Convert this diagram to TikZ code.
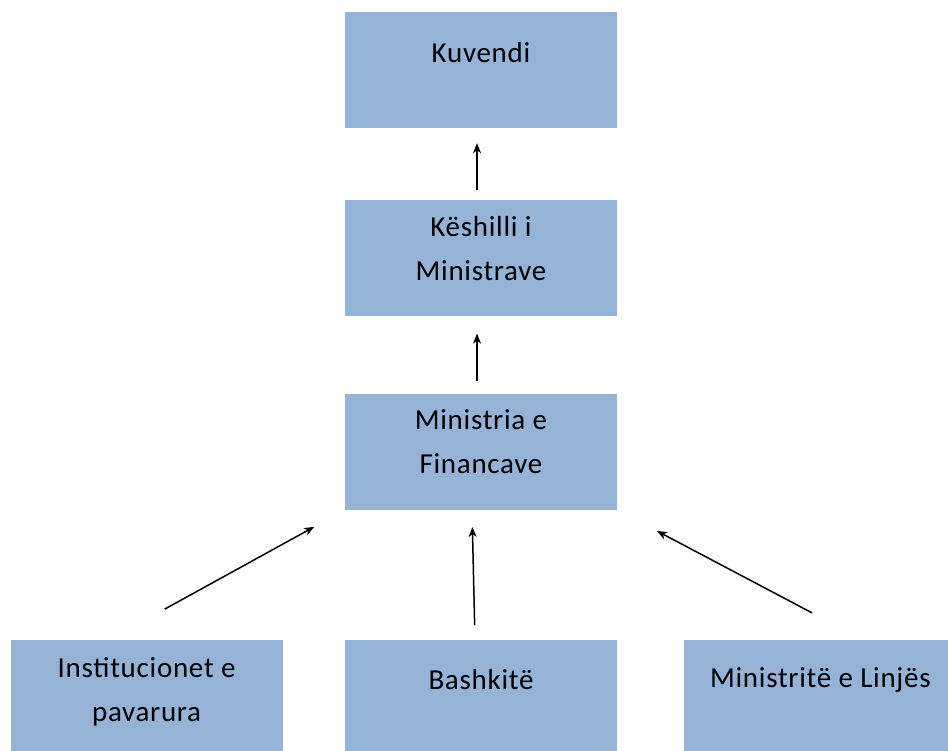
\documentclass[tikz,border=0pt]{standalone}
\usepackage{xcolor}
\usepackage{fontspec}
\setmainfont{Carlito}[LetterSpace=2.5]
\usepackage{tikz}
\usetikzlibrary{arrows.meta, positioning}

\definecolor{boxblue}{RGB}{149,179,215}
% box text: first baseline at #1 below the top of the box
\newcommand{\boxtext}[2]{\parbox[t][116pt][t]{272pt}{\centering\rule{0pt}{#1}#2}}

\begin{document}
\begin{tikzpicture}[
    office/.style={rectangle, fill=boxblue, inner sep=0pt, minimum width=272pt, minimum height=116pt, font=\fontsize{29}{44}\selectfont},
    arr/.style={-{Stealth[length=10pt, width=8pt, inset=3pt]}, line width=1.5pt, black}
]
\useasboundingbox (0,0) rectangle (948pt,-751pt);

\node[office] (kuvendi) at (481pt,-70pt) {\boxtext{51pt}{Kuvendi}};
\node[office, below=72pt of kuvendi] (keshilli) {\boxtext{36pt}{Këshilli i\\Ministrave}};
\node[office, below=77pt of keshilli] (ministria) {\boxtext{36pt}{Ministria e\\Financave}};

\node[office, below=130pt of ministria] (bashkite) {\boxtext{49pt}{Bashkitë}};
\node[office, left=62pt of bashkite] (institucionet) {\boxtext{37pt}{Institucionet e\\pavarura}};
\node[office, right=67pt of bashkite] (ministrite) {\boxtext{47pt}{Ministritë e Linjës}};

% reporting lines upwards
\draw[arr, shorten <=10pt, shorten >=15pt] ([xshift=-4pt]keshilli.north) -- ([xshift=-4pt]kuvendi.south);
\draw[arr, shorten <=13pt, shorten >=17pt] ([xshift=-4pt]ministria.north) -- ([xshift=-4pt]keshilli.south);

\draw[arr, shorten <=64pt, shorten >=35pt] ([xshift=-38pt]institucionet.north) -- (ministria.south west);
\draw[arr, shorten <=15pt, shorten >=17pt] ([xshift=-6pt]bashkite.north) -- ([xshift=-9pt]ministria.south);
\draw[arr, shorten <=58pt, shorten >=45pt] ([xshift=43pt]ministrite.north) -- (ministria.south east);
\end{tikzpicture}
\end{document}
